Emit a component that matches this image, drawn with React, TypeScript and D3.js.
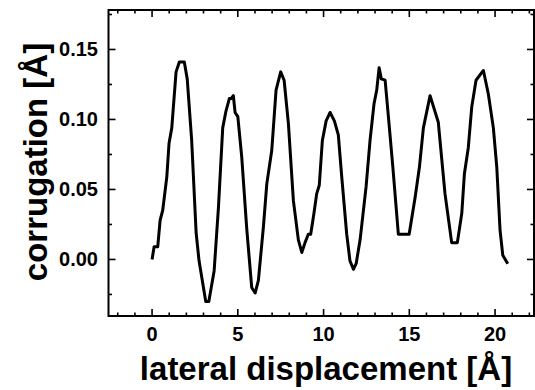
import React from "react";
import * as d3 from "d3";

const xValues = [
  0.0, 0.12, 0.33, 0.47, 0.62, 0.86, 0.99, 1.15, 1.4, 1.59, 1.88, 2.05, 2.31, 2.57, 2.74, 3.13, 3.31, 3.62, 3.87, 4.12,
  4.31, 4.51, 4.61, 4.74, 4.84, 5.0, 5.23, 5.52, 5.81, 6.01, 6.2, 6.49, 6.69, 6.98, 7.23, 7.5, 7.7, 7.95, 8.24, 8.53,
  8.73, 8.92, 9.11, 9.25, 9.44, 9.6, 9.75, 9.93, 10.15, 10.38, 10.63, 10.86, 11.06, 11.35, 11.54, 11.74, 11.9, 12.13,
  12.48, 12.71, 12.94, 13.1, 13.24, 13.37, 13.59, 13.78, 14.04, 14.36, 14.99, 15.34, 15.59, 15.82, 16.21, 16.69, 17.08,
  17.47, 17.8, 18.06, 18.21, 18.44, 18.64, 18.89, 19.32, 19.61, 19.9, 20.1, 20.29, 20.45, 20.74,
];
const yValues = [
  0.0, 0.009, 0.009, 0.028, 0.035, 0.059, 0.083, 0.094, 0.134, 0.141, 0.141, 0.129, 0.085, 0.019, -0.001, -0.03, -0.03,
  -0.008, 0.037, 0.094, 0.106, 0.115, 0.115, 0.117, 0.105, 0.102, 0.073, 0.022, -0.02, -0.024, -0.015, 0.023, 0.054,
  0.078, 0.121, 0.134, 0.128, 0.097, 0.042, 0.014, 0.005, 0.012, 0.018, 0.018, 0.033, 0.047, 0.053, 0.085, 0.099, 0.105,
  0.099, 0.089, 0.059, 0.018, -0.001, -0.007, -0.003, 0.014, 0.052, 0.085, 0.111, 0.121, 0.137, 0.129, 0.128, 0.102,
  0.066, 0.018, 0.018, 0.0445, 0.066, 0.094, 0.117, 0.098, 0.047, 0.012, 0.012, 0.033, 0.061, 0.08, 0.109, 0.128, 0.135,
  0.118, 0.094, 0.066, 0.021, 0.003, -0.003,
];

const xMajorTicks = [0, 5, 10, 15, 20];
const xTickLabels = ["0", "5", "10", "15", "20"];
const yMajorTicks = [0, 0.05, 0.1, 0.15];
const yTickLabels = ["0.00", "0.05", "0.10", "0.15"];
const xTitle = "lateral displacement [Å]";
const yTitle = "corrugation [Å]";

const W = 535;
const H = 390;
const L = 108.5;
const R = 534;
const T = 10;
const B = 316;
const FONT = "'Liberation Sans', Arial, Helvetica, sans-serif";

export default function App() {
  const x = d3.scaleLinear().domain([-2.54, 22.27]).range([L, R]);
  const y = d3.scaleLinear().domain([-0.0404, 0.1782]).range([B, T]);

  const data = xValues.map((v, i) => [v, yValues[i]] as [number, number]);
  const line = d3
    .line<[number, number]>()
    .x((d) => x(d[0]))
    .y((d) => y(d[1]));

  const xMinor = d3.range(-2, 23, 1).filter((v) => v % 5 !== 0 && x(v) > L + 2 && x(v) < R - 2);
  const yMinor = d3.range(-0.025, 0.18, 0.05).filter((v) => y(v) > T + 2 && y(v) < B - 2);

  const maj = 7;
  const min = 3.5;

  return (
    <svg width={W} height={H} style={{ position: "absolute", left: 0, top: 0, background: "#fff" }}>
      <rect x={0} y={0} width={W} height={H} fill="#fff" />
      {/* ticks */}
      <g stroke="#000" strokeWidth={1.6}>
        {xMajorTicks.map((v) => (
          <g key={"xM" + v}>
            <line x1={x(v)} x2={x(v)} y1={B} y2={B - maj} />
            <line x1={x(v)} x2={x(v)} y1={T} y2={T + maj} />
          </g>
        ))}
        {xMinor.map((v) => (
          <g key={"xm" + v}>
            <line x1={x(v)} x2={x(v)} y1={B} y2={B - min} />
            <line x1={x(v)} x2={x(v)} y1={T} y2={T + min} />
          </g>
        ))}
        {yMajorTicks.map((v) => (
          <g key={"yM" + v}>
            <line x1={L} x2={L + maj} y1={y(v)} y2={y(v)} />
            <line x1={R} x2={R - maj} y1={y(v)} y2={y(v)} />
          </g>
        ))}
        {yMinor.map((v) => (
          <g key={"ym" + v}>
            <line x1={L} x2={L + min} y1={y(v)} y2={y(v)} />
            <line x1={R} x2={R - min} y1={y(v)} y2={y(v)} />
          </g>
        ))}
      </g>
      <rect x={L} y={T} width={R - L} height={B - T} fill="none" stroke="#000" strokeWidth={2} />
      <path d={line(data) || ""} fill="none" stroke="#000" strokeWidth={3} strokeLinejoin="round" />
      {/* tick labels */}
      <g fontFamily={FONT} fontWeight="bold" fontSize={20} fill="#000">
        {xMajorTicks.map((v, i) => (
          <text key={"xl" + v} x={x(v)} y={341} textAnchor="middle">
            {xTickLabels[i]}
          </text>
        ))}
        {yMajorTicks.map((v, i) => (
          <text key={"yl" + v} x={98} y={y(v) + 7} textAnchor="end">
            {yTickLabels[i]}
          </text>
        ))}
      </g>
      <text x={326} y={380} textAnchor="middle" fontFamily={FONT} fontWeight="bold" fontSize={33}>
        {xTitle}
      </text>
      <text
        transform={`translate(47,162) rotate(-90)`}
        textAnchor="middle"
        fontFamily={FONT}
        fontWeight="bold"
        fontSize={33}
      >
        {yTitle}
      </text>
    </svg>
  );
}
